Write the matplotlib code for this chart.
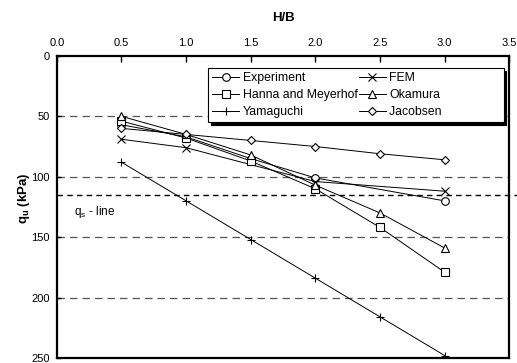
import numpy as np
import matplotlib.pyplot as plt

plt.rcParams['font.family'] = ['Liberation Sans', 'DejaVu Sans']

# data (H/B vs q_u in kPa)
hb_full = [0.5, 1.0, 1.5, 2.0, 2.5, 3.0]
hb_part = [0.5, 1.0, 2.0, 3.0]
hb_exp = [0.5, 1.0, 1.5, 2.0, 3.0]

experiment = [57, 67, 85, 101, 120]
fem = [69, 76, 104, 112]
hanna = [54, 68, 87, 110, 142, 179]
okamura = [50, 65, 82, 107, 130, 159]
yamaguchi = [88, 120, 152, 184, 216, 248]
jacobsen = [60, 65, 70, 75, 81, 86]

grid_levels = [50, 100, 150, 200]
qs_level = 115

fig = plt.figure(figsize=(5.17, 3.63), dpi=100)
ax = fig.add_axes([0.110, 0.014, 0.875, 0.832])

for g in grid_levels:
    ax.axhline(g, color='#555555', ls=(0, (6, 4)), lw=0.9, zorder=1)
ax.axhline(qs_level, xmin=0, xmax=1.02, color='black', ls=(0, (4, 3)), lw=1.0,
           clip_on=False, zorder=1)
ax.text(0.13, 129, 'q$_\\mathregular{s}$ - line', fontsize=8.5, va='center', ha='left')

style = dict(color='black', lw=0.7, mfc='white', mec='black', mew=0.8, ms=5.5, zorder=3)
h_exp, = ax.plot(hb_exp, experiment, marker='o', label='Experiment', **style)
h_fem, = ax.plot(hb_part, fem, marker='x', label='FEM', **style)
h_han, = ax.plot(hb_full, hanna, marker='s', label='Hanna and Meyerhof', **style)
h_oka, = ax.plot(hb_full, okamura, marker='^', label='Okamura', **style)
h_yam, = ax.plot(hb_full, yamaguchi, marker='+', label='Yamaguchi', **style)
h_jac, = ax.plot(hb_full, jacobsen, marker='D', label='Jacobsen', **dict(style, ms=4))

ax.set_xlim(0, 3.5)
ax.set_ylim(250, 0)
ax.set_xticks(np.arange(0, 3.51, 0.5))
ax.set_xticklabels(['%.1f' % v for v in np.arange(0, 3.51, 0.5)])
ax.set_yticks([0, 50, 100, 150, 200, 250])
ax.xaxis.tick_top()
ax.xaxis.set_label_position('top')
ax.tick_params(axis='x', direction='in', length=4, width=1, labelsize=8, pad=6)
ax.tick_params(axis='y', direction='in', length=3, width=1, labelsize=8, pad=5)
ax.tick_params(right=False, bottom=False)
for s in ax.spines.values():
    s.set_linewidth(1.6)

ax.set_xlabel('H/B', fontsize=9.5, fontweight='bold', labelpad=12)
ax.set_ylabel('q$_\\mathregular{u}$ (kPa)', fontsize=9.5, fontweight='bold')
ax.yaxis.set_label_coords(-0.055, 0.53)

# row-major order like the original legend; trailing spaces widen the box
handles = [h_exp, h_han, h_yam, h_fem, h_oka, h_jac]
labels = ['Experiment', 'Hanna and Meyerhof', 'Yamaguchi',
          'FEM', 'Okamura', 'Jacobsen' + ' ' * 17]
leg = ax.legend(handles, labels, ncol=2,
                loc='upper left', bbox_to_anchor=(0.334, 0.96),
                fontsize=8.8, frameon=True, fancybox=False,
                shadow={'color': 'black', 'alpha': 1},
                edgecolor='black', framealpha=1, borderpad=0.35,
                handlelength=2.2, handletextpad=0.3, columnspacing=0.1,
                labelspacing=0.4, borderaxespad=0)
leg.get_frame().set_linewidth(0.8)
leg.set_zorder(5)

fig.savefig('out.png', dpi=100)
